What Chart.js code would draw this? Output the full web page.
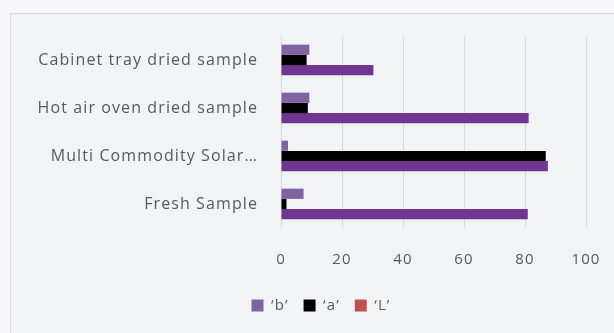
<!DOCTYPE html>
<html>
<head>
<meta charset="utf-8">
<script src="https://cdn.jsdelivr.net/npm/chart.js@4/dist/chart.umd.min.js"></script>
<style>
  html, body { margin: 0; padding: 0; background: #f7f7f9; }
  #wrap { width: 614px; height: 333px; position: relative; }
</style>
</head>
<body>
<div id="wrap"><canvas id="chart" width="614" height="333"></canvas></div>
<script>
// Colour measurements per drying method
const categories = [
  'Cabinet tray dried sample',
  'Hot air oven dried sample',
  'Multi Commodity Solar\u2026',
  'Fresh Sample'
];
const seriesNames = ['\u2018b\u2019', '\u2018a\u2019', '\u2018L\u2019'];
const bValues = [9.3, 9.3, 2.3, 7.4];
const aValues = [8.4, 8.8, 86.8, 1.8];
const LValues = [30.3, 81.2, 87.5, 80.9];
const xTicks = [0, 20, 40, 60, 80, 100];

const barColors = ['#8064a2', '#000000', '#703593'];
const legendColors = ['#8064a2', '#000000', '#c0504d'];

// Panel background with a thin frame
const framePlugin = {
  id: 'frame',
  beforeDraw(chart) {
    const ctx = chart.ctx;
    ctx.save();
    ctx.fillStyle = '#f7f7f9';
    ctx.fillRect(0, 0, chart.width, chart.height);
    ctx.fillStyle = '#f2f3f5';
    ctx.fillRect(10.5, 13.5, chart.width, chart.height);
    ctx.strokeStyle = '#dadada';
    ctx.lineWidth = 1;
    ctx.strokeRect(10.5, 13.5, chart.width, chart.height);
    ctx.restore();
  }
};

// Slightly open letter spacing for all chart text
const spacing = {
  id: 'spacing',
  beforeLayout(chart) { chart.ctx.letterSpacing = '1.1px'; },
  beforeDraw(chart) { chart.ctx.letterSpacing = '1.1px'; }
};

// Nudge the legend row to sit under the plot area
const legendShift = {
  id: 'legendShift',
  afterLayout(chart) {
    const lg = chart.legend;
    if (lg) { lg.left += 28; lg.right += 28; }
  }
};

const font = "'Open Sans', sans-serif";

new Chart(document.getElementById('chart'), {
  type: 'bar',
  data: {
    labels: categories,
    datasets: [
      { label: seriesNames[0], data: bValues, backgroundColor: barColors[0] },
      { label: seriesNames[1], data: aValues, backgroundColor: barColors[1] },
      { label: seriesNames[2], data: LValues, backgroundColor: barColors[2] }
    ]
  },
  options: {
    indexAxis: 'y',
    responsive: false,
    animation: false,
    devicePixelRatio: 1,
    categoryPercentage: 0.64,
    barPercentage: 1.0,
    layout: { padding: { top: 36, right: 28, bottom: 10, left: 0 } },
    scales: {
      x: {
        min: 0,
        max: 100,
        afterBuildTicks(scale) { scale.ticks = xTicks.map(v => ({ value: v })); },
        afterFit(scale) {
          scale.height = 55;
          scale.paddingRight = 0;
          scale.paddingLeft = 0;
        },
        grid: { color: '#d9d9d9', lineWidth: 1, drawTicks: false },
        border: { display: false },
        ticks: { color: '#595959', padding: 23, font: { family: font, size: 15 } }
      },
      y: {
        afterFit(scale) { scale.width = 281; },
        grid: { display: false, drawTicks: false },
        border: { display: false },
        ticks: { color: '#595959', padding: 23, font: { family: font, size: 16 } }
      }
    },
    plugins: {
      tooltip: { enabled: false },
      legend: {
        position: 'bottom',
        labels: {
          boxWidth: 12,
          boxHeight: 12,
          padding: 15,
          color: '#595959',
          font: { family: font, size: 15 },
          generateLabels(chart) {
            return chart.data.datasets.map((ds, i) => ({
              text: ds.label,
              fillStyle: legendColors[i],
              strokeStyle: legendColors[i],
              lineWidth: 0,
              fontColor: '#595959',
              hidden: false,
              datasetIndex: i
            }));
          }
        }
      }
    }
  },
  plugins: [framePlugin, spacing, legendShift]
});
</script>
</body>
</html>
